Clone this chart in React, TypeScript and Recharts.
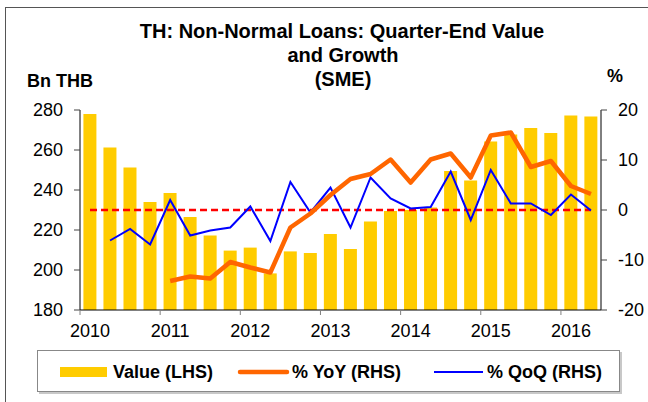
import React from 'react';
import { ComposedChart, Bar, Line, XAxis, YAxis, ReferenceLine } from 'recharts';

const quarters = [
  '2010Q1', '2010Q2', '2010Q3', '2010Q4',
  '2011Q1', '2011Q2', '2011Q3', '2011Q4',
  '2012Q1', '2012Q2', '2012Q3', '2012Q4',
  '2013Q1', '2013Q2', '2013Q3', '2013Q4',
  '2014Q1', '2014Q2', '2014Q3', '2014Q4',
  '2015Q1', '2015Q2', '2015Q3', '2015Q4',
  '2016Q1', '2016Q2',
];

const valueLHS = [
  278, 261.2, 251.3, 234, 238.5, 226.5, 217.2, 209.7, 211.2, 198.3, 209.3, 208.5,
  218, 210.5, 224.2, 229.5, 230, 231.3, 249.5, 244.7, 264.2, 267.7, 271, 268.5,
  277.2, 276.7,
];

const yoyRHS: (number | null)[] = [
  null, null, null, null, -14.2, -13.3, -13.7, -10.4, -11.5, -12.5, -3.5, -0.7,
  3.0, 6.2, 7.2, 10.1, 5.5, 10.1, 11.3, 6.5, 14.9, 15.5, 8.6, 9.8, 4.8, 3.2,
];

const qoqRHS: (number | null)[] = [
  null, -6.1, -3.8, -6.9, 2.0, -5.1, -4.1, -3.5, 0.7, -6.2, 5.6, -0.5,
  4.5, -3.5, 6.5, 2.3, 0.3, 0.6, 7.7, -2.0, 8.0, 1.3, 1.3, -1.0, 3.1, -0.1,
];

const leftTicks = [180, 200, 220, 240, 260, 280];
const rightTicks = [-20, -10, 0, 10, 20];

const data = quarters.map((q, i) => ({
  q,
  value: valueLHS[i],
  yoy: yoyRHS[i],
  qoq: qoqRHS[i],
}));

const FONT = '"Liberation Sans", Arial, sans-serif';
const PLOT_LEFT = 80;
const PLOT_RIGHT = 601;
const BAND = (PLOT_RIGHT - PLOT_LEFT) / quarters.length;

const XTick = (props: any) => {
  const { x, y, payload } = props;
  return (
    <g>
      <line x1={x - BAND / 2} x2={x - BAND / 2} y1={y} y2={y + 5} stroke="#808080" strokeWidth={1} />
      <text x={x} y={y + 27} textAnchor="middle" fontSize={18} fill="#000" fontFamily={FONT}>
        {String(payload.value).slice(0, 4)}
      </text>
    </g>
  );
};

export default function App() {
  return (
    <div
      style={{
        position: 'absolute',
        left: 0,
        top: 0,
        width: 648,
        height: 402,
        overflow: 'hidden',
        background: '#fff',
        fontFamily: FONT,
      }}
    >
      <div
        style={{
          position: 'absolute',
          left: 5,
          top: 7,
          width: 700,
          height: 450,
          border: '1px solid #555',
        }}
      />
      <svg
        width={648}
        height={402}
        style={{ position: 'absolute', left: 0, top: 0 }}
      >
        <g fontFamily={FONT} fontWeight="bold" fill="#000">
          <text x={342} y={38} fontSize={20} textAnchor="middle">
            TH: Non-Normal Loans: Quarter-End Value
          </text>
          <text x={343} y={62} fontSize={20} textAnchor="middle">
            and Growth
          </text>
          <text x={343} y={86} fontSize={20} textAnchor="middle">
            (SME)
          </text>
          <text x={27} y={87} fontSize={18}>
            Bn THB
          </text>
          <text x={607} y={82} fontSize={18}>
            %
          </text>
        </g>
      </svg>
      <div style={{ position: 'absolute', left: 0, top: 0 }}>
        <ComposedChart
          width={648}
          height={402}
          data={data}
          margin={{ top: 110, right: 0, bottom: 62, left: 20 }}
          barCategoryGap="17%"
        >
          <XAxis
            dataKey="q"
            xAxisId="x"
            interval={3}
            tickSize={0}
            tickMargin={0}
            tickLine={false}
            axisLine={{ stroke: '#000' }}
            tick={<XTick />}
            height={30}
          />
          <YAxis
            yAxisId="left"
            orientation="left"
            domain={[180, 280]}
            ticks={leftTicks}
            width={60}
            tickSize={6}
            tickMargin={11}
            axisLine={{ stroke: '#000' }}
            tickLine={{ stroke: '#444' }}
            tick={{ fill: '#000', fontSize: 18, fontFamily: FONT }}
            allowDataOverflow
          />
          <YAxis
            yAxisId="right"
            orientation="right"
            domain={[-20, 20]}
            ticks={rightTicks}
            width={47}
            tickSize={6}
            tickMargin={11}
            axisLine={{ stroke: '#000' }}
            tickLine={{ stroke: '#444' }}
            tick={{ fill: '#000', fontSize: 18, fontFamily: FONT }}
            allowDataOverflow
          />
          <Bar
            dataKey="value"
            xAxisId="x"
            yAxisId="left"
            fill="#FFCC00"
            isAnimationActive={false}
          />
          <ReferenceLine
            xAxisId="x"
            yAxisId="right"
            segment={[
              { x: quarters[0], y: 0 },
              { x: quarters[quarters.length - 1], y: 0 },
            ]}
            stroke="#FF0000"
            strokeWidth={2.5}
            strokeDasharray="7 4"
          />
          <Line
            dataKey="qoq"
            xAxisId="x"
            yAxisId="right"
            stroke="#0000FF"
            strokeWidth={2}
            dot={false}
            isAnimationActive={false}
          />
          <Line
            dataKey="yoy"
            xAxisId="x"
            yAxisId="right"
            stroke="#FF6600"
            strokeWidth={4.5}
            strokeLinejoin="round"
            dot={false}
            isAnimationActive={false}
          />
        </ComposedChart>
      </div>
      <svg
        width={648}
        height={402}
        style={{ position: 'absolute', left: 0, top: 0, pointerEvents: 'none' }}
      >
        <rect x={39} y={352} width={583} height={42} fill="#c8c8c8" />
        <rect x={37.5} y={350.5} width={582} height={41} fill="#fff" stroke="#888" strokeWidth={1} />
        <rect x={60} y={367} width={47} height={10} fill="#FFCC00" />
        <line x1={240} x2={287} y1={372} y2={372} stroke="#FF6600" strokeWidth={4.5} strokeLinecap="round" />
        <line x1={434} x2={483} y1={372} y2={372} stroke="#0000FF" strokeWidth={2} />
        <g fontFamily={FONT} fontWeight="bold" fontSize={18} fill="#000">
          <text x={113} y={378}>Value (LHS)</text>
          <text x={292} y={378}>% YoY (RHS)</text>
          <text x={487} y={378}>% QoQ (RHS)</text>
        </g>
      </svg>
    </div>
  );
}
